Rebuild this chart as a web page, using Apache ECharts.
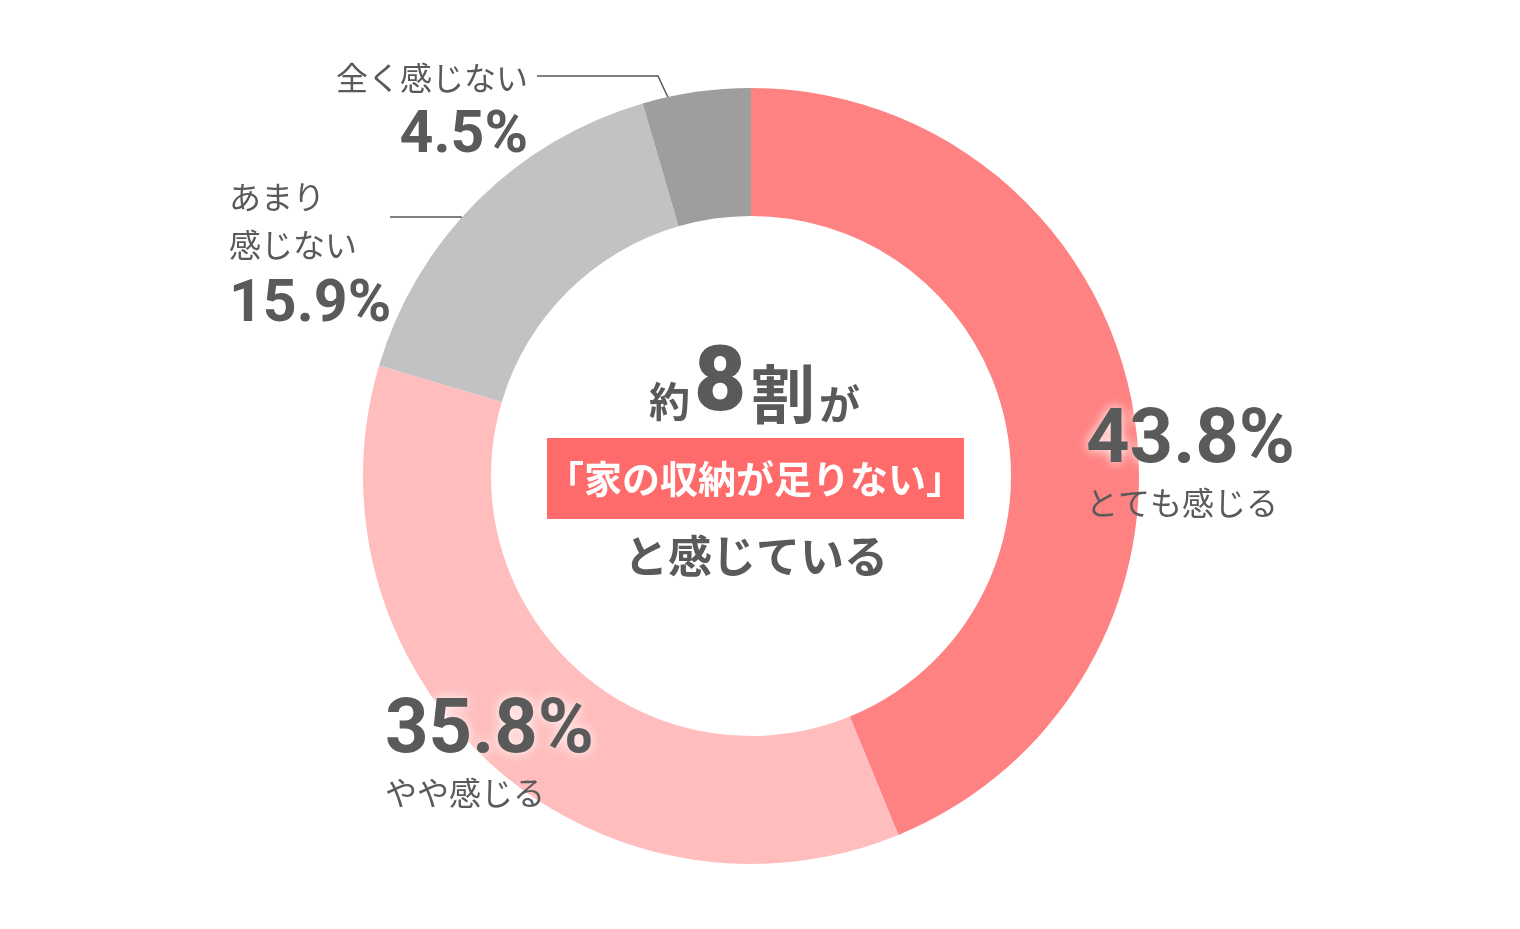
<!DOCTYPE html>
<html><head><meta charset="utf-8">
<script src="https://cdn.jsdelivr.net/npm/echarts@6/dist/echarts.min.js"></script>
<style>html,body{margin:0;padding:0;background:#fff}#c{width:1520px;height:929px}</style>
</head><body><div id="c"></div>
<script>
const categories = ['とても感じる', 'やや感じる', 'あまり感じない', '全く感じない'];
const labelNames = ['とても感じる', 'やや感じる', 'あまり\n感じない', '全く感じない'];
const values = [43.8, 35.8, 15.9, 4.5];
const colors = ['#FF8282', '#FFBDBD', '#C2C2C2', '#9E9E9E'];
const centerHead = ['約', '8', '割', 'が'];
const centerBox = '「家の収納が足りない」';
const centerTail = 'と感じている';

const TXT = '#5a5a5a';
const JP = '"Noto Sans CJK JP", "Noto Sans", sans-serif';
const NUM = 'Roboto, "Noto Sans", sans-serif';
const glow = { textShadowColor: '#fff', textShadowBlur: 12 };

const rich = {
  v: Object.assign({ fontFamily: NUM, fontWeight: 'bold', fontSize: 76, color: TXT, lineHeight: 80 }, glow),
  n: { fontFamily: JP, fontSize: 32, color: TXT, lineHeight: 40 },
  vs: Object.assign({ fontFamily: NUM, fontWeight: 'bold', fontSize: 59, color: TXT, lineHeight: 74 }, glow),
  vt: Object.assign({ fontFamily: NUM, fontWeight: 'bold', fontSize: 59, color: TXT, lineHeight: 70 }, glow),
  ns: { fontFamily: JP, fontSize: 32, color: TXT, lineHeight: 48 }
};

function fmt(i) {
  const v = values[i].toFixed(1) + '%';
  if (i === 0 || i === 1) return '{v|' + v + '}\n{n|' + labelNames[i] + '}';
  if (i === 2) return labelNames[i].split('\n').map(s => '{ns|' + s + '}').join('\n') + '\n{vs|' + v + '}';
  return '{ns|' + labelNames[i] + '}\n{vt|' + v + '}';
}

const layouts = [
  { x: 1086, y: 403, align: 'left', verticalAlign: 'top' },
  { x: 385, y: 693, align: 'left', verticalAlign: 'top' },
  { x: 229, y: 173, align: 'left', verticalAlign: 'top' },
  { x: 528, y: 54, align: 'right', verticalAlign: 'top' }
];
const linePts = [null, null,
  [[472, 238], [461, 217], [390, 217]],
  [[672, 106], [658, 76], [537, 76]]
];

const chart = echarts.init(document.getElementById('c'));
chart.setOption({
  animation: false,
  series: [{
    type: 'pie',
    center: [751, 476],
    radius: [260, 388],
    startAngle: 90,
    clockwise: true,
    silent: true,
    data: categories.map((c, i) => ({
      name: c, value: values[i],
      itemStyle: { color: colors[i] },
      label: { formatter: fmt(i) },
      labelLine: { show: i >= 2 }
    })),
    label: { show: true, position: 'outside', rich: rich, align: 'left' },
    labelLine: { show: false, lineStyle: { color: '#555', width: 1.5 } },
    labelLayout: function (p) {
      const L = Object.assign({}, layouts[p.dataIndex]);
      if (linePts[p.dataIndex]) L.labelLinePoints = linePts[p.dataIndex];
      return L;
    }
  }],
  graphic: [
    { type: 'text', x: 649, y: 401, style: { text: centerHead[0], font: 'bold 41px ' + JP, fill: TXT, verticalAlign: 'middle', align: 'left' } },
    { type: 'text', x: 694, y: 387, style: { text: centerHead[1], font: '900 90px ' + NUM, fill: TXT, verticalAlign: 'middle', align: 'left' } },
    { type: 'text', x: 751, y: 394, style: { text: centerHead[2], font: 'bold 64px ' + JP, fill: TXT, verticalAlign: 'middle', align: 'left' } },
    { type: 'text', x: 819, y: 404, style: { text: centerHead[3], font: 'bold 41px ' + JP, fill: TXT, verticalAlign: 'middle', align: 'left' } },
    { type: 'rect', shape: { x: 547, y: 438, width: 417, height: 81 }, style: { fill: '#FF6B6B' } },
    { type: 'text', x: 755, y: 479, style: { text: centerBox, font: 'bold 38px ' + JP, fill: '#fff', verticalAlign: 'middle', align: 'center' } },
    { type: 'text', x: 756, y: 556, style: { text: centerTail, font: 'bold 44px ' + JP, fill: TXT, verticalAlign: 'middle', align: 'center' } }
  ]
});
</script></body></html>
